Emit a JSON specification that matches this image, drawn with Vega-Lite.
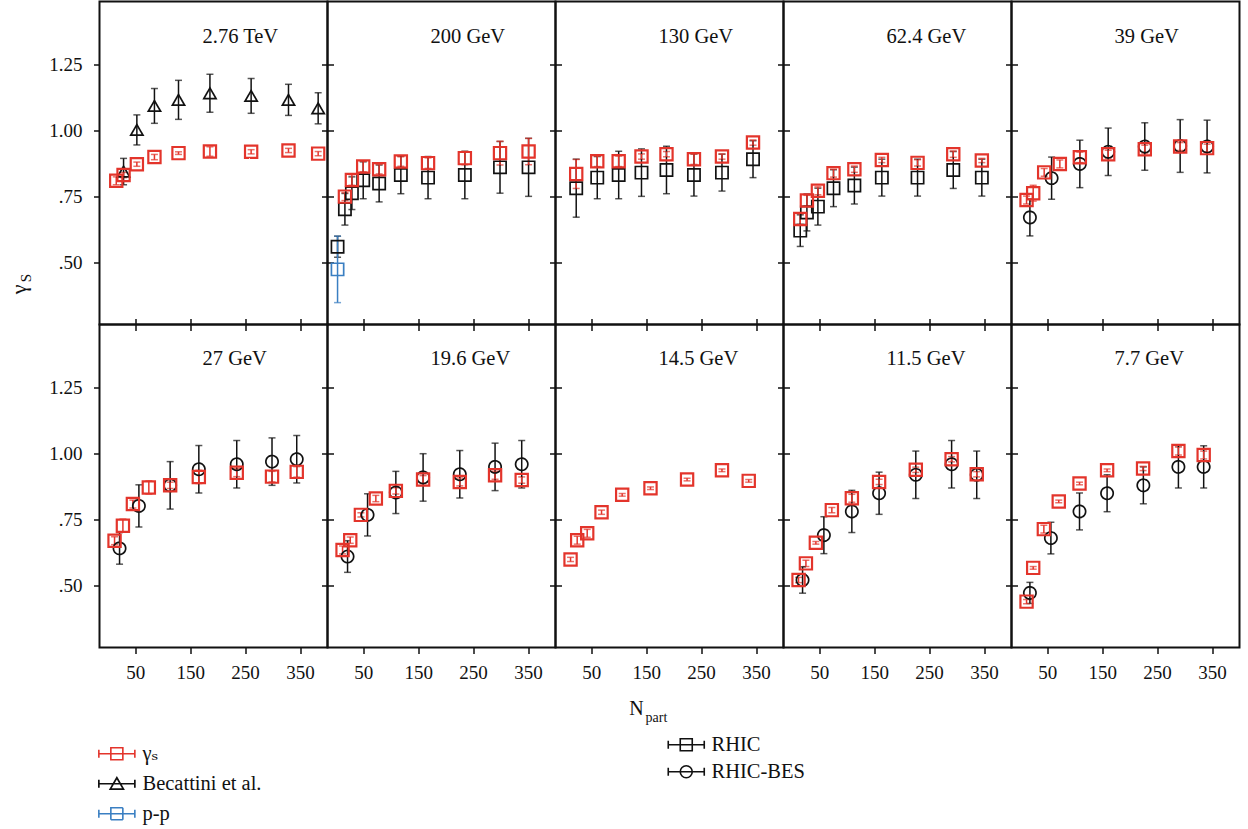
{
  "$schema": "https://vega.github.io/schema/vega-lite/v6.json",
  "background": "white",
  "padding": {"left": 5.5, "top": 0.5, "right": 6, "bottom": 3},
  "columns": 5,
  "spacing": 0,
  "bounds": "flush",
  "data": {"values": [
    {"panel":"2.76 TeV","series":"Becattini et al.","n":28.8,"v":0.845,"e":0.05},
    {"panel":"2.76 TeV","series":"Becattini et al.","n":53,"v":1.003,"e":0.057},
    {"panel":"2.76 TeV","series":"Becattini et al.","n":85,"v":1.094,"e":0.066},
    {"panel":"2.76 TeV","series":"Becattini et al.","n":128.8,"v":1.117,"e":0.074},
    {"panel":"2.76 TeV","series":"Becattini et al.","n":186,"v":1.142,"e":0.072},
    {"panel":"2.76 TeV","series":"Becattini et al.","n":261,"v":1.132,"e":0.066},
    {"panel":"2.76 TeV","series":"Becattini et al.","n":329,"v":1.117,"e":0.059},
    {"panel":"2.76 TeV","series":"Becattini et al.","n":383,"v":1.085,"e":0.059},
    {"panel":"2.76 TeV","series":"γS","n":15.5,"v":0.81,"e":0.015},
    {"panel":"2.76 TeV","series":"γS","n":28.8,"v":0.832,"e":0.01},
    {"panel":"2.76 TeV","series":"γS","n":53,"v":0.873,"e":0.008},
    {"panel":"2.76 TeV","series":"γS","n":85,"v":0.9,"e":0.01},
    {"panel":"2.76 TeV","series":"γS","n":128.8,"v":0.915,"e":0.005},
    {"panel":"2.76 TeV","series":"γS","n":186,"v":0.921,"e":0.018},
    {"panel":"2.76 TeV","series":"γS","n":261,"v":0.92,"e":0.008},
    {"panel":"2.76 TeV","series":"γS","n":329,"v":0.925,"e":0.008},
    {"panel":"2.76 TeV","series":"γS","n":383,"v":0.913,"e":0.008},

    {"panel":"200 GeV","series":"RHIC","n":3.3,"v":0.56,"e":0.04},
    {"panel":"200 GeV","series":"RHIC","n":16.7,"v":0.702,"e":0.06},
    {"panel":"200 GeV","series":"RHIC","n":29.4,"v":0.763,"e":0.062},
    {"panel":"200 GeV","series":"RHIC","n":50,"v":0.812,"e":0.07},
    {"panel":"200 GeV","series":"RHIC","n":79,"v":0.8,"e":0.07},
    {"panel":"200 GeV","series":"RHIC","n":118.5,"v":0.832,"e":0.071},
    {"panel":"200 GeV","series":"RHIC","n":168,"v":0.822,"e":0.08},
    {"panel":"200 GeV","series":"RHIC","n":235,"v":0.832,"e":0.09},
    {"panel":"200 GeV","series":"RHIC","n":299,"v":0.861,"e":0.098},
    {"panel":"200 GeV","series":"RHIC","n":351,"v":0.861,"e":0.11},
    {"panel":"200 GeV","series":"p-p","n":3.3,"v":0.474,"e":0.126},
    {"panel":"200 GeV","series":"γS","n":16.7,"v":0.75,"e":0.015},
    {"panel":"200 GeV","series":"γS","n":29.4,"v":0.813,"e":0.02},
    {"panel":"200 GeV","series":"γS","n":50,"v":0.864,"e":0.02},
    {"panel":"200 GeV","series":"γS","n":79,"v":0.854,"e":0.018},
    {"panel":"200 GeV","series":"γS","n":118.5,"v":0.883,"e":0.018},
    {"panel":"200 GeV","series":"γS","n":168,"v":0.877,"e":0.02},
    {"panel":"200 GeV","series":"γS","n":235,"v":0.896,"e":0.025},
    {"panel":"200 GeV","series":"γS","n":299,"v":0.915,"e":0.045},
    {"panel":"200 GeV","series":"γS","n":351,"v":0.921,"e":0.05},

    {"panel":"130 GeV","series":"RHIC","n":22.7,"v":0.782,"e":0.11},
    {"panel":"130 GeV","series":"RHIC","n":61,"v":0.822,"e":0.08},
    {"panel":"130 GeV","series":"RHIC","n":100,"v":0.832,"e":0.09},
    {"panel":"130 GeV","series":"RHIC","n":141.5,"v":0.841,"e":0.09},
    {"panel":"130 GeV","series":"RHIC","n":187,"v":0.851,"e":0.09},
    {"panel":"130 GeV","series":"RHIC","n":237,"v":0.832,"e":0.08},
    {"panel":"130 GeV","series":"RHIC","n":288,"v":0.841,"e":0.07},
    {"panel":"130 GeV","series":"RHIC","n":344.5,"v":0.892,"e":0.07},
    {"panel":"130 GeV","series":"γS","n":22.7,"v":0.836,"e":0.055},
    {"panel":"130 GeV","series":"γS","n":61,"v":0.884,"e":0.02},
    {"panel":"130 GeV","series":"γS","n":100,"v":0.884,"e":0.02},
    {"panel":"130 GeV","series":"γS","n":141.5,"v":0.902,"e":0.01},
    {"panel":"130 GeV","series":"γS","n":187,"v":0.911,"e":0.01},
    {"panel":"130 GeV","series":"γS","n":237,"v":0.892,"e":0.02},
    {"panel":"130 GeV","series":"γS","n":288,"v":0.902,"e":0.01},
    {"panel":"130 GeV","series":"γS","n":344.5,"v":0.955,"e":0.01},

    {"panel":"62.4 GeV","series":"RHIC","n":15.5,"v":0.621,"e":0.06},
    {"panel":"62.4 GeV","series":"RHIC","n":27.6,"v":0.69,"e":0.07},
    {"panel":"62.4 GeV","series":"RHIC","n":47.6,"v":0.712,"e":0.07},
    {"panel":"62.4 GeV","series":"RHIC","n":76,"v":0.782,"e":0.07},
    {"panel":"62.4 GeV","series":"RHIC","n":114,"v":0.792,"e":0.07},
    {"panel":"62.4 GeV","series":"RHIC","n":164,"v":0.822,"e":0.07},
    {"panel":"62.4 GeV","series":"RHIC","n":229,"v":0.822,"e":0.07},
    {"panel":"62.4 GeV","series":"RHIC","n":294,"v":0.851,"e":0.07},
    {"panel":"62.4 GeV","series":"RHIC","n":346,"v":0.822,"e":0.07},
    {"panel":"62.4 GeV","series":"γS","n":15.5,"v":0.665,"e":0.02},
    {"panel":"62.4 GeV","series":"γS","n":27.6,"v":0.735,"e":0.02},
    {"panel":"62.4 GeV","series":"γS","n":47.6,"v":0.772,"e":0.015},
    {"panel":"62.4 GeV","series":"γS","n":76,"v":0.839,"e":0.015},
    {"panel":"62.4 GeV","series":"γS","n":114,"v":0.854,"e":0.012},
    {"panel":"62.4 GeV","series":"γS","n":164,"v":0.889,"e":0.01},
    {"panel":"62.4 GeV","series":"γS","n":229,"v":0.878,"e":0.012},
    {"panel":"62.4 GeV","series":"γS","n":294,"v":0.911,"e":0.012},
    {"panel":"62.4 GeV","series":"γS","n":346,"v":0.887,"e":0.008},

    {"panel":"39 GeV","series":"RHIC-BES","n":18.5,"v":0.671,"e":0.07},
    {"panel":"39 GeV","series":"RHIC-BES","n":58,"v":0.82,"e":0.08},
    {"panel":"39 GeV","series":"RHIC-BES","n":109.4,"v":0.874,"e":0.09},
    {"panel":"39 GeV","series":"RHIC-BES","n":161,"v":0.92,"e":0.09},
    {"panel":"39 GeV","series":"RHIC-BES","n":227.6,"v":0.94,"e":0.09},
    {"panel":"39 GeV","series":"RHIC-BES","n":292,"v":0.942,"e":0.1},
    {"panel":"39 GeV","series":"RHIC-BES","n":341,"v":0.94,"e":0.1},
    {"panel":"39 GeV","series":"γS","n":12.4,"v":0.737,"e":0.015},
    {"panel":"39 GeV","series":"γS","n":24.5,"v":0.763,"e":0.03},
    {"panel":"39 GeV","series":"γS","n":44.5,"v":0.842,"e":0.015},
    {"panel":"39 GeV","series":"γS","n":73,"v":0.874,"e":0.015},
    {"panel":"39 GeV","series":"γS","n":109.4,"v":0.899,"e":0.02},
    {"panel":"39 GeV","series":"γS","n":161,"v":0.911,"e":0.015},
    {"panel":"39 GeV","series":"γS","n":227.6,"v":0.93,"e":0.015},
    {"panel":"39 GeV","series":"γS","n":292,"v":0.94,"e":0.015},
    {"panel":"39 GeV","series":"γS","n":341,"v":0.934,"e":0.015},

    {"panel":"27 GeV","series":"RHIC-BES","n":21.5,"v":0.641,"e":0.06},
    {"panel":"27 GeV","series":"RHIC-BES","n":56.7,"v":0.802,"e":0.08},
    {"panel":"27 GeV","series":"RHIC-BES","n":113.6,"v":0.88,"e":0.09},
    {"panel":"27 GeV","series":"RHIC-BES","n":165.8,"v":0.941,"e":0.09},
    {"panel":"27 GeV","series":"RHIC-BES","n":234.8,"v":0.96,"e":0.09},
    {"panel":"27 GeV","series":"RHIC-BES","n":299,"v":0.97,"e":0.09},
    {"panel":"27 GeV","series":"RHIC-BES","n":344,"v":0.979,"e":0.09},
    {"panel":"27 GeV","series":"γS","n":12.4,"v":0.67,"e":0.015},
    {"panel":"27 GeV","series":"γS","n":27.6,"v":0.727,"e":0.025},
    {"panel":"27 GeV","series":"γS","n":45.8,"v":0.809,"e":0.015},
    {"panel":"27 GeV","series":"γS","n":74.8,"v":0.872,"e":0.025},
    {"panel":"27 GeV","series":"γS","n":113.6,"v":0.88,"e":0.012},
    {"panel":"27 GeV","series":"γS","n":165.8,"v":0.912,"e":0.025},
    {"panel":"27 GeV","series":"γS","n":234.8,"v":0.928,"e":0.015},
    {"panel":"27 GeV","series":"γS","n":299,"v":0.913,"e":0.02},
    {"panel":"27 GeV","series":"γS","n":344,"v":0.931,"e":0.02},

    {"panel":"19.6 GeV","series":"RHIC-BES","n":21.5,"v":0.61,"e":0.06},
    {"panel":"19.6 GeV","series":"RHIC-BES","n":57.9,"v":0.768,"e":0.08},
    {"panel":"19.6 GeV","series":"RHIC-BES","n":109.4,"v":0.853,"e":0.08},
    {"panel":"19.6 GeV","series":"RHIC-BES","n":159,"v":0.91,"e":0.09},
    {"panel":"19.6 GeV","series":"RHIC-BES","n":225.8,"v":0.922,"e":0.09},
    {"panel":"19.6 GeV","series":"RHIC-BES","n":290,"v":0.95,"e":0.09},
    {"panel":"19.6 GeV","series":"RHIC-BES","n":338.5,"v":0.96,"e":0.09},
    {"panel":"19.6 GeV","series":"γS","n":12.4,"v":0.635,"e":0.015},
    {"panel":"19.6 GeV","series":"γS","n":26.4,"v":0.672,"e":0.012},
    {"panel":"19.6 GeV","series":"γS","n":45.8,"v":0.768,"e":0.008},
    {"panel":"19.6 GeV","series":"γS","n":73,"v":0.83,"e":0.012},
    {"panel":"19.6 GeV","series":"γS","n":109.4,"v":0.859,"e":0.012},
    {"panel":"19.6 GeV","series":"γS","n":159,"v":0.902,"e":0.015},
    {"panel":"19.6 GeV","series":"γS","n":225.8,"v":0.893,"e":0.015},
    {"panel":"19.6 GeV","series":"γS","n":290,"v":0.918,"e":0.015},
    {"panel":"19.6 GeV","series":"γS","n":338.5,"v":0.9,"e":0.012},

    {"panel":"14.5 GeV","series":"γS","n":12.4,"v":0.599,"e":0.008},
    {"panel":"14.5 GeV","series":"γS","n":24.5,"v":0.672,"e":0.015},
    {"panel":"14.5 GeV","series":"γS","n":42.7,"v":0.698,"e":0.015},
    {"panel":"14.5 GeV","series":"γS","n":68.8,"v":0.778,"e":0.008},
    {"panel":"14.5 GeV","series":"γS","n":106.4,"v":0.844,"e":0.005},
    {"panel":"14.5 GeV","series":"γS","n":157.9,"v":0.869,"e":0.005},
    {"panel":"14.5 GeV","series":"γS","n":224.5,"v":0.902,"e":0.005},
    {"panel":"14.5 GeV","series":"γS","n":288,"v":0.937,"e":0.005},
    {"panel":"14.5 GeV","series":"γS","n":336.7,"v":0.897,"e":0.005},

    {"panel":"11.5 GeV","series":"RHIC-BES","n":19.7,"v":0.521,"e":0.05},
    {"panel":"11.5 GeV","series":"RHIC-BES","n":58.5,"v":0.691,"e":0.07},
    {"panel":"11.5 GeV","series":"RHIC-BES","n":109.4,"v":0.781,"e":0.08},
    {"panel":"11.5 GeV","series":"RHIC-BES","n":159,"v":0.85,"e":0.08},
    {"panel":"11.5 GeV","series":"RHIC-BES","n":225.8,"v":0.92,"e":0.09},
    {"panel":"11.5 GeV","series":"RHIC-BES","n":291,"v":0.96,"e":0.09},
    {"panel":"11.5 GeV","series":"RHIC-BES","n":336.7,"v":0.92,"e":0.09},
    {"panel":"11.5 GeV","series":"γS","n":12.4,"v":0.521,"e":0.01},
    {"panel":"11.5 GeV","series":"γS","n":25.8,"v":0.584,"e":0.012},
    {"panel":"11.5 GeV","series":"γS","n":43.9,"v":0.662,"e":0.005},
    {"panel":"11.5 GeV","series":"γS","n":73,"v":0.786,"e":0.01},
    {"panel":"11.5 GeV","series":"γS","n":109.4,"v":0.831,"e":0.015},
    {"panel":"11.5 GeV","series":"γS","n":159,"v":0.893,"e":0.01},
    {"panel":"11.5 GeV","series":"γS","n":225.8,"v":0.939,"e":0.01},
    {"panel":"11.5 GeV","series":"γS","n":291,"v":0.979,"e":0.01},
    {"panel":"11.5 GeV","series":"γS","n":336.7,"v":0.922,"e":0.01},

    {"panel":"7.7 GeV","series":"RHIC-BES","n":18.5,"v":0.472,"e":0.04},
    {"panel":"7.7 GeV","series":"RHIC-BES","n":56.7,"v":0.68,"e":0.06},
    {"panel":"7.7 GeV","series":"RHIC-BES","n":108.8,"v":0.781,"e":0.07},
    {"panel":"7.7 GeV","series":"RHIC-BES","n":159,"v":0.85,"e":0.07},
    {"panel":"7.7 GeV","series":"RHIC-BES","n":225,"v":0.88,"e":0.07},
    {"panel":"7.7 GeV","series":"RHIC-BES","n":288.8,"v":0.95,"e":0.08},
    {"panel":"7.7 GeV","series":"RHIC-BES","n":334.8,"v":0.95,"e":0.08},
    {"panel":"7.7 GeV","series":"γS","n":12.4,"v":0.439,"e":0.008},
    {"panel":"7.7 GeV","series":"γS","n":24.5,"v":0.567,"e":0.005},
    {"panel":"7.7 GeV","series":"γS","n":43.9,"v":0.714,"e":0.015},
    {"panel":"7.7 GeV","series":"γS","n":71,"v":0.819,"e":0.005},
    {"panel":"7.7 GeV","series":"γS","n":108.8,"v":0.887,"e":0.005},
    {"panel":"7.7 GeV","series":"γS","n":159,"v":0.937,"e":0.005},
    {"panel":"7.7 GeV","series":"γS","n":224.5,"v":0.944,"e":0.008},
    {"panel":"7.7 GeV","series":"γS","n":288.8,"v":1.01,"e":0.015},
    {"panel":"7.7 GeV","series":"γS","n":334.8,"v":0.995,"e":0.015}
  ]},
  "concat": [
    {
      "width": 228, "height": 323,
      "title": {"text": "2.76 TeV"},
      "transform": [{"filter": {"field": "panel", "equal": "2.76 TeV"}}],
      "layer": [
        {"mark": {"type": "errorbar", "ticks": {"size": 7}, "thickness": 1.5},
         "encoding": {
           "x": {"field": "n", "type": "quantitative", "scale": {"domain": [-15, 400], "nice": false, "zero": false}, "axis": {"orient": "bottom", "values": [50,150,250,350], "labels": false, "tickSize": -6, "title": null}},
           "y": {"field": "v", "type": "quantitative", "scale": {"domain": [0.265, 1.49], "nice": false, "zero": false}, "axis": {"orient": "left", "values": [0.5,0.75,1,1.25], "tickSize": 6, "labelPadding": 11.5, "labelExpr": "datum.value < 1 ? slice(format(datum.value, '.2f'), 1) : format(datum.value, '.2f')", "title": "γ", "titleX": -74.5, "titleY": 287.5, "titleAngle": 270, "titleAlign": "center", "titleBaseline": "alphabetic", "titleFontSize": 22}},
           "yError": {"field": "e"},
           "color": {"condition": [{"test": "datum.series === 'γS'", "value": "#e3342b"}, {"test": "datum.series === 'p-p'", "value": "#3a7fc2"}], "value": "#111111"}
         }},
        {"mark": {"type": "point", "filled": false, "size": 150},
         "encoding": {
           "x": {"field": "n", "type": "quantitative", "scale": {"domain": [-15, 400], "nice": false, "zero": false}, "axis": null},
           "y": {"field": "v", "type": "quantitative", "scale": {"domain": [0.265, 1.49], "nice": false, "zero": false}, "axis": {"orient": "right", "values": [0.5,0.75,1,1.25], "labels": false, "tickSize": -6, "title": "S", "titleX": -297.5, "titleY": 276, "titleAngle": 270, "titleAlign": "center", "titleBaseline": "alphabetic", "titleFontSize": 15}},
           "stroke": {"field": "series", "type": "nominal", "scale": {"domain": ["γS","Becattini et al.","p-p","RHIC","RHIC-BES"], "range": ["#e3342b","#111111","#3a7fc2","#111111","#111111"]},
             "legend": {"values": ["γS"], "orient": "none", "legendX": 7.1, "legendY": 742, "title": null, "symbolSize": 144, "labelOffset": 15.4, "labelFontSize": 20.5, "symbolStrokeWidth": 1.6, "symbolFillColor": "transparent", "symbolOpacity": 1,
               "symbolType": "M-3,0H3M-3,-0.65V0.65M3,-0.65V0.65M-1,-1H1V1H-1Z",
               "labelExpr": "'γₛ'"}},
           "shape": {"field": "series", "type": "nominal", "scale": {"domain": ["RHIC","RHIC-BES","γS","Becattini et al.","p-p"], "range": ["square","circle","square","triangle-up","square"]}, "legend": null},
           "strokeWidth": {"field": "series", "type": "nominal", "scale": {"type": "ordinal", "domain": ["p-p","γS","Becattini et al.","RHIC","RHIC-BES"], "range": [1.7, 2.2, 1.7, 1.7, 1.7]},
             "legend": {"values": ["Becattini et al."], "orient": "none", "legendX": 7.1, "legendY": 772, "title": null, "symbolSize": 144, "labelOffset": 15.4, "labelFontSize": 20.5, "symbolStrokeColor": "#111111", "symbolFillColor": "transparent", "symbolOpacity": 1,
               "symbolType": "M-3,0H3M-3,-0.65V0.65M3,-0.65V0.65M0,-1L1.1,0.9H-1.1Z"}},
           "strokeDash": {"field": "series", "type": "nominal", "scale": {"type": "ordinal", "domain": ["Becattini et al.","p-p","γS","RHIC","RHIC-BES"], "range": [[1,0],[1,0],[1,0],[1,0],[1,0]]},
             "legend": {"values": ["p-p"], "orient": "none", "legendX": 7.1, "legendY": 802, "title": null, "symbolSize": 144, "labelOffset": 15.4, "labelFontSize": 20.5, "symbolStrokeColor": "#3a7fc2", "symbolStrokeWidth": 1.6, "symbolFillColor": "transparent", "symbolOpacity": 1,
               "symbolType": "M-3,0H3M-3,-0.65V0.65M3,-0.65V0.65M-1,-1H1V1H-1Z"}},
           "fill": {"field": "series", "type": "nominal", "scale": {"type": "ordinal", "domain": ["RHIC","γS","Becattini et al.","p-p","RHIC-BES"], "range": ["transparent","transparent","transparent","transparent","transparent"]},
             "legend": {"values": ["RHIC"], "orient": "none", "legendX": 576.5, "legendY": 733, "title": null, "symbolSize": 144, "labelOffset": 15, "labelFontSize": 20.5, "symbolStrokeColor": "#111111", "symbolStrokeWidth": 1.6, "symbolOpacity": 1,
               "symbolType": "M-3,0H3M-3,-0.65V0.65M3,-0.65V0.65M-1,-1H1V1H-1Z"}},
           "opacity": {"field": "series", "type": "nominal", "scale": {"type": "ordinal", "domain": ["RHIC-BES","RHIC","γS","Becattini et al.","p-p"], "range": [1, 1, 1, 1, 1]},
             "legend": {"values": ["RHIC-BES"], "orient": "none", "legendX": 576.5, "legendY": 760, "title": null, "symbolSize": 144, "labelOffset": 15, "labelFontSize": 20.5, "symbolStrokeColor": "#111111", "symbolStrokeWidth": 1.6, "symbolFillColor": "transparent",
               "symbolType": "M-3,0H3M-3,-0.65V0.65M3,-0.65V0.65M1,0A1,1 0 1 1 -1,0A1,1 0 1 1 1,0Z"}}
         }}
      ],
      "resolve": {"axis": {"x": "independent", "y": "independent"}}
    },
    {
      "width": 228, "height": 323,
      "title": {"text": "200 GeV"},
      "transform": [{"filter": {"field": "panel", "equal": "200 GeV"}}],
      "layer": [
        {"mark": {"type": "errorbar", "ticks": {"size": 7}, "thickness": 1.5},
         "encoding": {
           "x": {"field": "n", "type": "quantitative", "scale": {"domain": [-15, 400], "nice": false, "zero": false}, "axis": {"orient": "bottom", "values": [50,150,250,350], "labels": false, "tickSize": -6, "title": null}},
           "y": {"field": "v", "type": "quantitative", "scale": {"domain": [0.265, 1.49], "nice": false, "zero": false}, "axis": {"orient": "left", "values": [0.5,0.75,1,1.25], "labels": false, "tickSize": -6, "title": null}},
           "yError": {"field": "e"},
           "color": {"condition": [{"test": "datum.series === 'γS'", "value": "#e3342b"}, {"test": "datum.series === 'p-p'", "value": "#3a7fc2"}], "value": "#111111"}
         }},
        {"mark": {"type": "point", "filled": false, "size": 150},
         "encoding": {
           "x": {"field": "n", "type": "quantitative", "scale": {"domain": [-15, 400], "nice": false, "zero": false}, "axis": null},
           "y": {"field": "v", "type": "quantitative", "scale": {"domain": [0.265, 1.49], "nice": false, "zero": false}, "axis": {"orient": "right", "values": [0.5,0.75,1,1.25], "labels": false, "tickSize": -6, "title": null}},
           "stroke": {"field": "series", "type": "nominal", "scale": {"domain": ["γS","Becattini et al.","p-p","RHIC","RHIC-BES"], "range": ["#e3342b","#111111","#3a7fc2","#111111","#111111"]}},
           "shape": {"field": "series", "type": "nominal", "scale": {"domain": ["RHIC","RHIC-BES","γS","Becattini et al.","p-p"], "range": ["square","circle","square","triangle-up","square"]}},
           "strokeWidth": {"field": "series", "type": "nominal", "scale": {"type": "ordinal", "domain": ["p-p","γS","Becattini et al.","RHIC","RHIC-BES"], "range": [1.7, 2.2, 1.7, 1.7, 1.7]}},
           "strokeDash": {"field": "series", "type": "nominal", "scale": {"type": "ordinal", "domain": ["Becattini et al.","p-p","γS","RHIC","RHIC-BES"], "range": [[1,0],[1,0],[1,0],[1,0],[1,0]]}},
           "fill": {"field": "series", "type": "nominal", "scale": {"type": "ordinal", "domain": ["RHIC","γS","Becattini et al.","p-p","RHIC-BES"], "range": ["transparent","transparent","transparent","transparent","transparent"]}},
           "opacity": {"field": "series", "type": "nominal", "scale": {"type": "ordinal", "domain": ["RHIC-BES","RHIC","γS","Becattini et al.","p-p"], "range": [1, 1, 1, 1, 1]}}
         }}
      ],
      "resolve": {"axis": {"x": "independent", "y": "independent"}}
    },
    {
      "width": 228, "height": 323,
      "title": {"text": "130 GeV"},
      "transform": [{"filter": {"field": "panel", "equal": "130 GeV"}}],
      "layer": [
        {"mark": {"type": "errorbar", "ticks": {"size": 7}, "thickness": 1.5},
         "encoding": {
           "x": {"field": "n", "type": "quantitative", "scale": {"domain": [-15, 400], "nice": false, "zero": false}, "axis": {"orient": "bottom", "values": [50,150,250,350], "labels": false, "tickSize": -6, "title": null}},
           "y": {"field": "v", "type": "quantitative", "scale": {"domain": [0.265, 1.49], "nice": false, "zero": false}, "axis": {"orient": "left", "values": [0.5,0.75,1,1.25], "labels": false, "tickSize": -6, "title": null}},
           "yError": {"field": "e"},
           "color": {"condition": [{"test": "datum.series === 'γS'", "value": "#e3342b"}, {"test": "datum.series === 'p-p'", "value": "#3a7fc2"}], "value": "#111111"}
         }},
        {"mark": {"type": "point", "filled": false, "size": 150},
         "encoding": {
           "x": {"field": "n", "type": "quantitative", "scale": {"domain": [-15, 400], "nice": false, "zero": false}, "axis": null},
           "y": {"field": "v", "type": "quantitative", "scale": {"domain": [0.265, 1.49], "nice": false, "zero": false}, "axis": {"orient": "right", "values": [0.5,0.75,1,1.25], "labels": false, "tickSize": -6, "title": null}},
           "stroke": {"field": "series", "type": "nominal", "scale": {"domain": ["γS","Becattini et al.","p-p","RHIC","RHIC-BES"], "range": ["#e3342b","#111111","#3a7fc2","#111111","#111111"]}},
           "shape": {"field": "series", "type": "nominal", "scale": {"domain": ["RHIC","RHIC-BES","γS","Becattini et al.","p-p"], "range": ["square","circle","square","triangle-up","square"]}},
           "strokeWidth": {"field": "series", "type": "nominal", "scale": {"type": "ordinal", "domain": ["p-p","γS","Becattini et al.","RHIC","RHIC-BES"], "range": [1.7, 2.2, 1.7, 1.7, 1.7]}},
           "strokeDash": {"field": "series", "type": "nominal", "scale": {"type": "ordinal", "domain": ["Becattini et al.","p-p","γS","RHIC","RHIC-BES"], "range": [[1,0],[1,0],[1,0],[1,0],[1,0]]}},
           "fill": {"field": "series", "type": "nominal", "scale": {"type": "ordinal", "domain": ["RHIC","γS","Becattini et al.","p-p","RHIC-BES"], "range": ["transparent","transparent","transparent","transparent","transparent"]}},
           "opacity": {"field": "series", "type": "nominal", "scale": {"type": "ordinal", "domain": ["RHIC-BES","RHIC","γS","Becattini et al.","p-p"], "range": [1, 1, 1, 1, 1]}}
         }}
      ],
      "resolve": {"axis": {"x": "independent", "y": "independent"}}
    },
    {
      "width": 228, "height": 323,
      "title": {"text": "62.4 GeV"},
      "transform": [{"filter": {"field": "panel", "equal": "62.4 GeV"}}],
      "layer": [
        {"mark": {"type": "errorbar", "ticks": {"size": 7}, "thickness": 1.5},
         "encoding": {
           "x": {"field": "n", "type": "quantitative", "scale": {"domain": [-15, 400], "nice": false, "zero": false}, "axis": {"orient": "bottom", "values": [50,150,250,350], "labels": false, "tickSize": -6, "title": null}},
           "y": {"field": "v", "type": "quantitative", "scale": {"domain": [0.265, 1.49], "nice": false, "zero": false}, "axis": {"orient": "left", "values": [0.5,0.75,1,1.25], "labels": false, "tickSize": -6, "title": null}},
           "yError": {"field": "e"},
           "color": {"condition": [{"test": "datum.series === 'γS'", "value": "#e3342b"}, {"test": "datum.series === 'p-p'", "value": "#3a7fc2"}], "value": "#111111"}
         }},
        {"mark": {"type": "point", "filled": false, "size": 150},
         "encoding": {
           "x": {"field": "n", "type": "quantitative", "scale": {"domain": [-15, 400], "nice": false, "zero": false}, "axis": null},
           "y": {"field": "v", "type": "quantitative", "scale": {"domain": [0.265, 1.49], "nice": false, "zero": false}, "axis": {"orient": "right", "values": [0.5,0.75,1,1.25], "labels": false, "tickSize": -6, "title": null}},
           "stroke": {"field": "series", "type": "nominal", "scale": {"domain": ["γS","Becattini et al.","p-p","RHIC","RHIC-BES"], "range": ["#e3342b","#111111","#3a7fc2","#111111","#111111"]}},
           "shape": {"field": "series", "type": "nominal", "scale": {"domain": ["RHIC","RHIC-BES","γS","Becattini et al.","p-p"], "range": ["square","circle","square","triangle-up","square"]}},
           "strokeWidth": {"field": "series", "type": "nominal", "scale": {"type": "ordinal", "domain": ["p-p","γS","Becattini et al.","RHIC","RHIC-BES"], "range": [1.7, 2.2, 1.7, 1.7, 1.7]}},
           "strokeDash": {"field": "series", "type": "nominal", "scale": {"type": "ordinal", "domain": ["Becattini et al.","p-p","γS","RHIC","RHIC-BES"], "range": [[1,0],[1,0],[1,0],[1,0],[1,0]]}},
           "fill": {"field": "series", "type": "nominal", "scale": {"type": "ordinal", "domain": ["RHIC","γS","Becattini et al.","p-p","RHIC-BES"], "range": ["transparent","transparent","transparent","transparent","transparent"]}},
           "opacity": {"field": "series", "type": "nominal", "scale": {"type": "ordinal", "domain": ["RHIC-BES","RHIC","γS","Becattini et al.","p-p"], "range": [1, 1, 1, 1, 1]}}
         }}
      ],
      "resolve": {"axis": {"x": "independent", "y": "independent"}}
    },
    {
      "width": 228, "height": 323,
      "title": {"text": "39 GeV"},
      "transform": [{"filter": {"field": "panel", "equal": "39 GeV"}}],
      "layer": [
        {"mark": {"type": "errorbar", "ticks": {"size": 7}, "thickness": 1.5},
         "encoding": {
           "x": {"field": "n", "type": "quantitative", "scale": {"domain": [-15, 400], "nice": false, "zero": false}, "axis": {"orient": "bottom", "values": [50,150,250,350], "labels": false, "tickSize": -6, "title": null}},
           "y": {"field": "v", "type": "quantitative", "scale": {"domain": [0.265, 1.49], "nice": false, "zero": false}, "axis": {"orient": "left", "values": [0.5,0.75,1,1.25], "labels": false, "tickSize": -6, "title": null}},
           "yError": {"field": "e"},
           "color": {"condition": [{"test": "datum.series === 'γS'", "value": "#e3342b"}, {"test": "datum.series === 'p-p'", "value": "#3a7fc2"}], "value": "#111111"}
         }},
        {"mark": {"type": "point", "filled": false, "size": 150},
         "encoding": {
           "x": {"field": "n", "type": "quantitative", "scale": {"domain": [-15, 400], "nice": false, "zero": false}, "axis": null},
           "y": {"field": "v", "type": "quantitative", "scale": {"domain": [0.265, 1.49], "nice": false, "zero": false}, "axis": null},
           "stroke": {"field": "series", "type": "nominal", "scale": {"domain": ["γS","Becattini et al.","p-p","RHIC","RHIC-BES"], "range": ["#e3342b","#111111","#3a7fc2","#111111","#111111"]}},
           "shape": {"field": "series", "type": "nominal", "scale": {"domain": ["RHIC","RHIC-BES","γS","Becattini et al.","p-p"], "range": ["square","circle","square","triangle-up","square"]}},
           "strokeWidth": {"field": "series", "type": "nominal", "scale": {"type": "ordinal", "domain": ["p-p","γS","Becattini et al.","RHIC","RHIC-BES"], "range": [1.7, 2.2, 1.7, 1.7, 1.7]}},
           "strokeDash": {"field": "series", "type": "nominal", "scale": {"type": "ordinal", "domain": ["Becattini et al.","p-p","γS","RHIC","RHIC-BES"], "range": [[1,0],[1,0],[1,0],[1,0],[1,0]]}},
           "fill": {"field": "series", "type": "nominal", "scale": {"type": "ordinal", "domain": ["RHIC","γS","Becattini et al.","p-p","RHIC-BES"], "range": ["transparent","transparent","transparent","transparent","transparent"]}},
           "opacity": {"field": "series", "type": "nominal", "scale": {"type": "ordinal", "domain": ["RHIC-BES","RHIC","γS","Becattini et al.","p-p"], "range": [1, 1, 1, 1, 1]}}
         }}
      ],
      "resolve": {"axis": {"x": "independent", "y": "independent"}}
    },
    {
      "width": 228, "height": 323,
      "title": {"text": "27 GeV"},
      "transform": [{"filter": {"field": "panel", "equal": "27 GeV"}}],
      "layer": [
        {"mark": {"type": "errorbar", "ticks": {"size": 7}, "thickness": 1.5},
         "encoding": {
           "x": {"field": "n", "type": "quantitative", "scale": {"domain": [-15, 400], "nice": false, "zero": false}, "axis": {"orient": "bottom", "values": [50,150,250,350], "tickSize": 6, "labelPadding": 10, "title": null}},
           "y": {"field": "v", "type": "quantitative", "scale": {"domain": [0.265, 1.49], "nice": false, "zero": false}, "axis": {"orient": "left", "values": [0.5,0.75,1,1.25], "tickSize": 6, "labelPadding": 11.5, "labelExpr": "datum.value < 1 ? slice(format(datum.value, '.2f'), 1) : format(datum.value, '.2f')", "title": null}},
           "yError": {"field": "e"},
           "color": {"condition": [{"test": "datum.series === 'γS'", "value": "#e3342b"}, {"test": "datum.series === 'p-p'", "value": "#3a7fc2"}], "value": "#111111"}
         }},
        {"mark": {"type": "point", "filled": false, "size": 150},
         "encoding": {
           "x": {"field": "n", "type": "quantitative", "scale": {"domain": [-15, 400], "nice": false, "zero": false}, "axis": {"orient": "top", "values": [50,150,250,350], "labels": false, "tickSize": -6, "title": null}},
           "y": {"field": "v", "type": "quantitative", "scale": {"domain": [0.265, 1.49], "nice": false, "zero": false}, "axis": {"orient": "right", "values": [0.5,0.75,1,1.25], "labels": false, "tickSize": -6, "title": null}},
           "stroke": {"field": "series", "type": "nominal", "scale": {"domain": ["γS","Becattini et al.","p-p","RHIC","RHIC-BES"], "range": ["#e3342b","#111111","#3a7fc2","#111111","#111111"]}},
           "shape": {"field": "series", "type": "nominal", "scale": {"domain": ["RHIC","RHIC-BES","γS","Becattini et al.","p-p"], "range": ["square","circle","square","triangle-up","square"]}},
           "strokeWidth": {"field": "series", "type": "nominal", "scale": {"type": "ordinal", "domain": ["p-p","γS","Becattini et al.","RHIC","RHIC-BES"], "range": [1.7, 2.2, 1.7, 1.7, 1.7]}},
           "strokeDash": {"field": "series", "type": "nominal", "scale": {"type": "ordinal", "domain": ["Becattini et al.","p-p","γS","RHIC","RHIC-BES"], "range": [[1,0],[1,0],[1,0],[1,0],[1,0]]}},
           "fill": {"field": "series", "type": "nominal", "scale": {"type": "ordinal", "domain": ["RHIC","γS","Becattini et al.","p-p","RHIC-BES"], "range": ["transparent","transparent","transparent","transparent","transparent"]}},
           "opacity": {"field": "series", "type": "nominal", "scale": {"type": "ordinal", "domain": ["RHIC-BES","RHIC","γS","Becattini et al.","p-p"], "range": [1, 1, 1, 1, 1]}}
         }}
      ],
      "resolve": {"axis": {"x": "independent", "y": "independent"}}
    },
    {
      "width": 228, "height": 323,
      "title": {"text": "19.6 GeV"},
      "transform": [{"filter": {"field": "panel", "equal": "19.6 GeV"}}],
      "layer": [
        {"mark": {"type": "errorbar", "ticks": {"size": 7}, "thickness": 1.5},
         "encoding": {
           "x": {"field": "n", "type": "quantitative", "scale": {"domain": [-15, 400], "nice": false, "zero": false}, "axis": {"orient": "bottom", "values": [50,150,250,350], "tickSize": 6, "labelPadding": 10, "title": null}},
           "y": {"field": "v", "type": "quantitative", "scale": {"domain": [0.265, 1.49], "nice": false, "zero": false}, "axis": {"orient": "left", "values": [0.5,0.75,1,1.25], "labels": false, "tickSize": -6, "title": null}},
           "yError": {"field": "e"},
           "color": {"condition": [{"test": "datum.series === 'γS'", "value": "#e3342b"}, {"test": "datum.series === 'p-p'", "value": "#3a7fc2"}], "value": "#111111"}
         }},
        {"mark": {"type": "point", "filled": false, "size": 150},
         "encoding": {
           "x": {"field": "n", "type": "quantitative", "scale": {"domain": [-15, 400], "nice": false, "zero": false}, "axis": {"orient": "top", "values": [50,150,250,350], "labels": false, "tickSize": -6, "title": null}},
           "y": {"field": "v", "type": "quantitative", "scale": {"domain": [0.265, 1.49], "nice": false, "zero": false}, "axis": {"orient": "right", "values": [0.5,0.75,1,1.25], "labels": false, "tickSize": -6, "title": null}},
           "stroke": {"field": "series", "type": "nominal", "scale": {"domain": ["γS","Becattini et al.","p-p","RHIC","RHIC-BES"], "range": ["#e3342b","#111111","#3a7fc2","#111111","#111111"]}},
           "shape": {"field": "series", "type": "nominal", "scale": {"domain": ["RHIC","RHIC-BES","γS","Becattini et al.","p-p"], "range": ["square","circle","square","triangle-up","square"]}},
           "strokeWidth": {"field": "series", "type": "nominal", "scale": {"type": "ordinal", "domain": ["p-p","γS","Becattini et al.","RHIC","RHIC-BES"], "range": [1.7, 2.2, 1.7, 1.7, 1.7]}},
           "strokeDash": {"field": "series", "type": "nominal", "scale": {"type": "ordinal", "domain": ["Becattini et al.","p-p","γS","RHIC","RHIC-BES"], "range": [[1,0],[1,0],[1,0],[1,0],[1,0]]}},
           "fill": {"field": "series", "type": "nominal", "scale": {"type": "ordinal", "domain": ["RHIC","γS","Becattini et al.","p-p","RHIC-BES"], "range": ["transparent","transparent","transparent","transparent","transparent"]}},
           "opacity": {"field": "series", "type": "nominal", "scale": {"type": "ordinal", "domain": ["RHIC-BES","RHIC","γS","Becattini et al.","p-p"], "range": [1, 1, 1, 1, 1]}}
         }}
      ],
      "resolve": {"axis": {"x": "independent", "y": "independent"}}
    },
    {
      "width": 228, "height": 323,
      "title": {"text": "14.5 GeV"},
      "transform": [{"filter": {"field": "panel", "equal": "14.5 GeV"}}],
      "layer": [
        {"mark": {"type": "errorbar", "ticks": {"size": 7}, "thickness": 1.5},
         "encoding": {
           "x": {"field": "n", "type": "quantitative", "scale": {"domain": [-15, 400], "nice": false, "zero": false}, "axis": {"orient": "bottom", "values": [50,150,250,350], "tickSize": 6, "labelPadding": 10, "title": "N", "titleX": 80.5, "titleY": 66.5, "titleAngle": 0, "titleAlign": "center", "titleBaseline": "alphabetic", "titleFontSize": 20}},
           "y": {"field": "v", "type": "quantitative", "scale": {"domain": [0.265, 1.49], "nice": false, "zero": false}, "axis": {"orient": "left", "values": [0.5,0.75,1,1.25], "labels": false, "tickSize": -6, "title": null}},
           "yError": {"field": "e"},
           "color": {"condition": [{"test": "datum.series === 'γS'", "value": "#e3342b"}, {"test": "datum.series === 'p-p'", "value": "#3a7fc2"}], "value": "#111111"}
         }},
        {"mark": {"type": "point", "filled": false, "size": 150},
         "encoding": {
           "x": {"field": "n", "type": "quantitative", "scale": {"domain": [-15, 400], "nice": false, "zero": false}, "axis": {"orient": "top", "values": [50,150,250,350], "labels": false, "tickSize": -6, "title": "part", "titleX": 89.5, "titleY": 396.5, "titleAngle": 0, "titleAlign": "left", "titleBaseline": "alphabetic", "titleFontSize": 14}},
           "y": {"field": "v", "type": "quantitative", "scale": {"domain": [0.265, 1.49], "nice": false, "zero": false}, "axis": {"orient": "right", "values": [0.5,0.75,1,1.25], "labels": false, "tickSize": -6, "title": null}},
           "stroke": {"field": "series", "type": "nominal", "scale": {"domain": ["γS","Becattini et al.","p-p","RHIC","RHIC-BES"], "range": ["#e3342b","#111111","#3a7fc2","#111111","#111111"]}},
           "shape": {"field": "series", "type": "nominal", "scale": {"domain": ["RHIC","RHIC-BES","γS","Becattini et al.","p-p"], "range": ["square","circle","square","triangle-up","square"]}},
           "strokeWidth": {"field": "series", "type": "nominal", "scale": {"type": "ordinal", "domain": ["p-p","γS","Becattini et al.","RHIC","RHIC-BES"], "range": [1.7, 2.2, 1.7, 1.7, 1.7]}},
           "strokeDash": {"field": "series", "type": "nominal", "scale": {"type": "ordinal", "domain": ["Becattini et al.","p-p","γS","RHIC","RHIC-BES"], "range": [[1,0],[1,0],[1,0],[1,0],[1,0]]}},
           "fill": {"field": "series", "type": "nominal", "scale": {"type": "ordinal", "domain": ["RHIC","γS","Becattini et al.","p-p","RHIC-BES"], "range": ["transparent","transparent","transparent","transparent","transparent"]}},
           "opacity": {"field": "series", "type": "nominal", "scale": {"type": "ordinal", "domain": ["RHIC-BES","RHIC","γS","Becattini et al.","p-p"], "range": [1, 1, 1, 1, 1]}}
         }}
      ],
      "resolve": {"axis": {"x": "independent", "y": "independent"}}
    },
    {
      "width": 228, "height": 323,
      "title": {"text": "11.5 GeV"},
      "transform": [{"filter": {"field": "panel", "equal": "11.5 GeV"}}],
      "layer": [
        {"mark": {"type": "errorbar", "ticks": {"size": 7}, "thickness": 1.5},
         "encoding": {
           "x": {"field": "n", "type": "quantitative", "scale": {"domain": [-15, 400], "nice": false, "zero": false}, "axis": {"orient": "bottom", "values": [50,150,250,350], "tickSize": 6, "labelPadding": 10, "title": null}},
           "y": {"field": "v", "type": "quantitative", "scale": {"domain": [0.265, 1.49], "nice": false, "zero": false}, "axis": {"orient": "left", "values": [0.5,0.75,1,1.25], "labels": false, "tickSize": -6, "title": null}},
           "yError": {"field": "e"},
           "color": {"condition": [{"test": "datum.series === 'γS'", "value": "#e3342b"}, {"test": "datum.series === 'p-p'", "value": "#3a7fc2"}], "value": "#111111"}
         }},
        {"mark": {"type": "point", "filled": false, "size": 150},
         "encoding": {
           "x": {"field": "n", "type": "quantitative", "scale": {"domain": [-15, 400], "nice": false, "zero": false}, "axis": {"orient": "top", "values": [50,150,250,350], "labels": false, "tickSize": -6, "title": null}},
           "y": {"field": "v", "type": "quantitative", "scale": {"domain": [0.265, 1.49], "nice": false, "zero": false}, "axis": {"orient": "right", "values": [0.5,0.75,1,1.25], "labels": false, "tickSize": -6, "title": null}},
           "stroke": {"field": "series", "type": "nominal", "scale": {"domain": ["γS","Becattini et al.","p-p","RHIC","RHIC-BES"], "range": ["#e3342b","#111111","#3a7fc2","#111111","#111111"]}},
           "shape": {"field": "series", "type": "nominal", "scale": {"domain": ["RHIC","RHIC-BES","γS","Becattini et al.","p-p"], "range": ["square","circle","square","triangle-up","square"]}},
           "strokeWidth": {"field": "series", "type": "nominal", "scale": {"type": "ordinal", "domain": ["p-p","γS","Becattini et al.","RHIC","RHIC-BES"], "range": [1.7, 2.2, 1.7, 1.7, 1.7]}},
           "strokeDash": {"field": "series", "type": "nominal", "scale": {"type": "ordinal", "domain": ["Becattini et al.","p-p","γS","RHIC","RHIC-BES"], "range": [[1,0],[1,0],[1,0],[1,0],[1,0]]}},
           "fill": {"field": "series", "type": "nominal", "scale": {"type": "ordinal", "domain": ["RHIC","γS","Becattini et al.","p-p","RHIC-BES"], "range": ["transparent","transparent","transparent","transparent","transparent"]}},
           "opacity": {"field": "series", "type": "nominal", "scale": {"type": "ordinal", "domain": ["RHIC-BES","RHIC","γS","Becattini et al.","p-p"], "range": [1, 1, 1, 1, 1]}}
         }}
      ],
      "resolve": {"axis": {"x": "independent", "y": "independent"}}
    },
    {
      "width": 228, "height": 323,
      "title": {"text": "7.7 GeV"},
      "transform": [{"filter": {"field": "panel", "equal": "7.7 GeV"}}],
      "layer": [
        {"mark": {"type": "errorbar", "ticks": {"size": 7}, "thickness": 1.5},
         "encoding": {
           "x": {"field": "n", "type": "quantitative", "scale": {"domain": [-15, 400], "nice": false, "zero": false}, "axis": {"orient": "bottom", "values": [50,150,250,350], "tickSize": 6, "labelPadding": 10, "title": null}},
           "y": {"field": "v", "type": "quantitative", "scale": {"domain": [0.265, 1.49], "nice": false, "zero": false}, "axis": {"orient": "left", "values": [0.5,0.75,1,1.25], "labels": false, "tickSize": -6, "title": null}},
           "yError": {"field": "e"},
           "color": {"condition": [{"test": "datum.series === 'γS'", "value": "#e3342b"}, {"test": "datum.series === 'p-p'", "value": "#3a7fc2"}], "value": "#111111"}
         }},
        {"mark": {"type": "point", "filled": false, "size": 150},
         "encoding": {
           "x": {"field": "n", "type": "quantitative", "scale": {"domain": [-15, 400], "nice": false, "zero": false}, "axis": {"orient": "top", "values": [50,150,250,350], "labels": false, "tickSize": -6, "title": null}},
           "y": {"field": "v", "type": "quantitative", "scale": {"domain": [0.265, 1.49], "nice": false, "zero": false}, "axis": null},
           "stroke": {"field": "series", "type": "nominal", "scale": {"domain": ["γS","Becattini et al.","p-p","RHIC","RHIC-BES"], "range": ["#e3342b","#111111","#3a7fc2","#111111","#111111"]}},
           "shape": {"field": "series", "type": "nominal", "scale": {"domain": ["RHIC","RHIC-BES","γS","Becattini et al.","p-p"], "range": ["square","circle","square","triangle-up","square"]}},
           "strokeWidth": {"field": "series", "type": "nominal", "scale": {"type": "ordinal", "domain": ["p-p","γS","Becattini et al.","RHIC","RHIC-BES"], "range": [1.7, 2.2, 1.7, 1.7, 1.7]}},
           "strokeDash": {"field": "series", "type": "nominal", "scale": {"type": "ordinal", "domain": ["Becattini et al.","p-p","γS","RHIC","RHIC-BES"], "range": [[1,0],[1,0],[1,0],[1,0],[1,0]]}},
           "fill": {"field": "series", "type": "nominal", "scale": {"type": "ordinal", "domain": ["RHIC","γS","Becattini et al.","p-p","RHIC-BES"], "range": ["transparent","transparent","transparent","transparent","transparent"]}},
           "opacity": {"field": "series", "type": "nominal", "scale": {"type": "ordinal", "domain": ["RHIC-BES","RHIC","γS","Becattini et al.","p-p"], "range": [1, 1, 1, 1, 1]}}
         }}
      ],
      "resolve": {"axis": {"x": "independent", "y": "independent"}}
    }
  ],
  "config": {
    "font": "Liberation Serif, DejaVu Serif, serif",
    "view": {"stroke": "#111111", "strokeWidth": 2},
    "axis": {"grid": false, "domain": false, "tickColor": "#111111", "tickWidth": 1.5, "labelColor": "#111111", "labelFont": "Liberation Serif, DejaVu Serif, serif", "labelFontSize": 19, "titleFont": "Liberation Serif, DejaVu Serif, serif", "titleFontWeight": "normal", "titleColor": "#111111"},
    "title": {"font": "Liberation Serif, DejaVu Serif, serif", "fontSize": 20.5, "fontWeight": "normal", "color": "#111111", "anchor": "start", "frame": "group", "dx": 103, "offset": -45.5, "baseline": "alphabetic"},
    "legend": {"disable": true, "labelFont": "Liberation Serif, DejaVu Serif, serif", "labelColor": "#111111"}
  }
}
